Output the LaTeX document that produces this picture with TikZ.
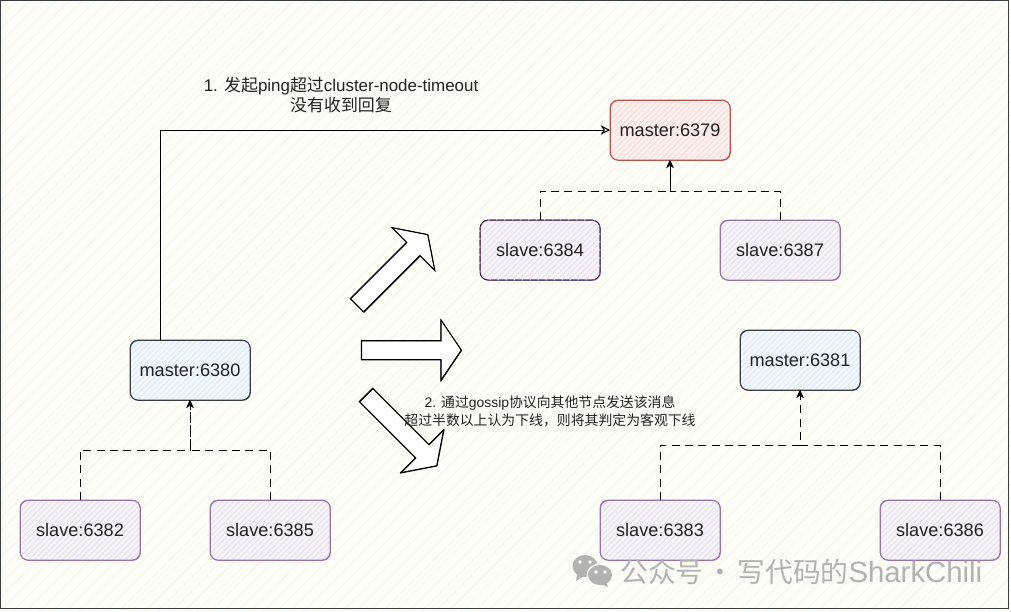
\documentclass[tikz,border=0pt]{standalone}
\usepackage{fontspec}
\setmainfont{Liberation Sans}
\newfontfamily\cjk{Noto Sans CJK SC}
\usetikzlibrary{positioning, arrows.meta, patterns.meta, shapes.arrows}
\definecolor{paperBg}{HTML}{FDFDF8}
\definecolor{paperHatch}{HTML}{F6F6EA}
\definecolor{redLine}{HTML}{B85450}
\definecolor{redFill}{HTML}{FDF1F0}
\definecolor{redHatch}{HTML}{F9D5D3}
\definecolor{blueFill}{HTML}{F2F8FE}
\definecolor{blueHatch}{HTML}{D9E9FA}
\definecolor{greyLine}{HTML}{3A3D42}
\definecolor{purpleLine}{HTML}{9673A6}
\definecolor{purpleFill}{HTML}{F8F5FA}
\definecolor{purpleHatch}{HTML}{E6DDEB}
\definecolor{inkText}{HTML}{222222}
\definecolor{markGrey}{HTML}{B2B2B2}

\begin{document}
\begin{tikzpicture}[x=0.75pt, y=-0.75pt, font=\fontsize{13.6pt}{16pt}\selectfont,
    sketchy/.style={postaction={draw, transform canvas={shift={(.35pt,-.35pt)}}}},
    redis/.style={draw=#1, semithick, rounded corners=6pt, minimum width=90pt, minimum height=45pt,
      inner sep=0pt, outer sep=0pt, text=inkText, sketchy},
    redisfill/.style 2 args={preaction={fill=#1}, pattern={Lines[angle=45, distance=3pt, line width=.6pt]},
      pattern color=#2},
    masterRed/.style={redis=redLine, redisfill={redFill}{redHatch}},
    masterBlue/.style={redis=greyLine, redisfill={blueFill}{blueHatch}},
    slave/.style={redis=purpleLine, redisfill={purpleFill}{purpleHatch}},
    slaveInk/.style={slave, postaction={draw=black, thin, dash pattern=on 5pt off 1pt}},
    replica/.style={draw=black, line width=.75pt, dash pattern=on 6pt off 4pt, -{Stealth[length=6pt, width=5.5pt]}},
    bigarrow/.style={draw=black, semithick, fill=white, single arrow, minimum height=75pt, minimum width=45pt,
      single arrow head extend=15.75pt, single arrow tip angle=112, inner sep=0pt, anchor=center,
      text height=13.5pt, text width=0pt, sketchy}]
    % paper
    \useasboundingbox (0,0) rectangle (1011,611);
    \fill[paperBg] (0,0) rectangle (1011,611);
    \fill[pattern={Lines[angle=45, distance=7pt, line width=.6pt]}, pattern color=paperHatch] (0,0) rectangle (1011,611);
    \draw[greyLine, line width=.7pt] (.5,.5) rectangle (1008,608.5);

    % masters
    \node[masterRed] (m6379) at (670,130) {master:6379};
    \node[masterBlue] (m6380) at (190,370) {master:6380};
    \node[masterBlue] (m6381) at (800,360) {master:6381};

    % slaves
    \node[slaveInk, below=45pt of m6379, xshift=-97.5pt] (s6384) {slave:6384};
    \node[slave, below=45pt of m6379, xshift=82.5pt] (s6387) {slave:6387};
    \node[slave, below=75pt of m6380, xshift=-82.5pt] (s6382) {slave:6382};
    \node[slave, below=75pt of m6380, xshift=60pt] (s6385) {slave:6385};
    \node[slave, below=82.5pt of m6381, xshift=-105pt] (s6383) {slave:6383};
    \node[slave, below=82.5pt of m6381, xshift=105pt] (s6386) {slave:6386};

    \coordinate (j6379) at (670,191);
    \coordinate (j6380) at (190,450);
    \coordinate (j6381) at (800,445);

    \draw[replica] (s6384.north) |- (j6379) -- (m6379.south);
    \draw[replica] (s6387.north) |- (j6379) -- (m6379.south);
    \draw[replica] (s6382.north) |- (j6380) -- (m6380.south);
    \draw[replica] (s6385.north) |- (j6380) -- (m6380.south);
    \draw[replica] (s6383.north) |- (j6381) -- (m6381.south);
    \draw[replica] (s6386.north) |- (j6381) -- (m6381.south);

    % ping
    \draw[line width=.75pt, -{Stealth[open, length=7pt, width=7pt]}] ([xshift=-22.5pt]m6380.north) |- (m6379.west);

    \node[align=center, text=inkText, font=\fontsize{12.7pt}{15pt}\selectfont] (ping) at (341,95)
      {1. {\cjk 发起}ping{\cjk 超过}cluster-node-timeout\\{\cjk 没有收到回复}};

    % spread
    \node[bigarrow, rotate=45] (up) at (390,272) {};
    \node[bigarrow] (right) at (408,350) {};
    \node[bigarrow, rotate=-45] (down) at (399,428) {};

    \node[align=center, text=inkText, font=\fontsize{10.4pt}{13.5pt}\selectfont] (gossip) at (550,411.5)
      {2. {\cjk 通过}gossip{\cjk 协议向其他节点发送该消息}\\{\cjk 超过半数以上认为下线，则将其判定为客观下线}};

    % mark
    \fill[markGrey] (585,566) ellipse (12.5 and 11);
    \fill[markGrey] (577,574) -- (576,581) -- (584,576) -- cycle;
    \fill[paperBg] (600,575) ellipse (13.5 and 11.5);
    \fill[markGrey] (600,575) ellipse (12 and 10);
    \fill[markGrey] (606,582) -- (608,587) -- (601,584) -- cycle;
    \foreach \ex/\ey in {580/562, 590/562, 596/572, 605/572}
      \fill[paperBg] (\ex,\ey) circle (1.8);
    \node[anchor=west, inner sep=0pt, text=markGrey, font=\fontsize{20.8pt}{24pt}\selectfont] (mark) at (620,572)
      {{\cjk 公众号\kern-2.25pt{} · \kern-2.25pt{}写代码的}{\fontsize{22pt}{24pt}\selectfont SharkChili}};
\end{tikzpicture}
\end{document}
